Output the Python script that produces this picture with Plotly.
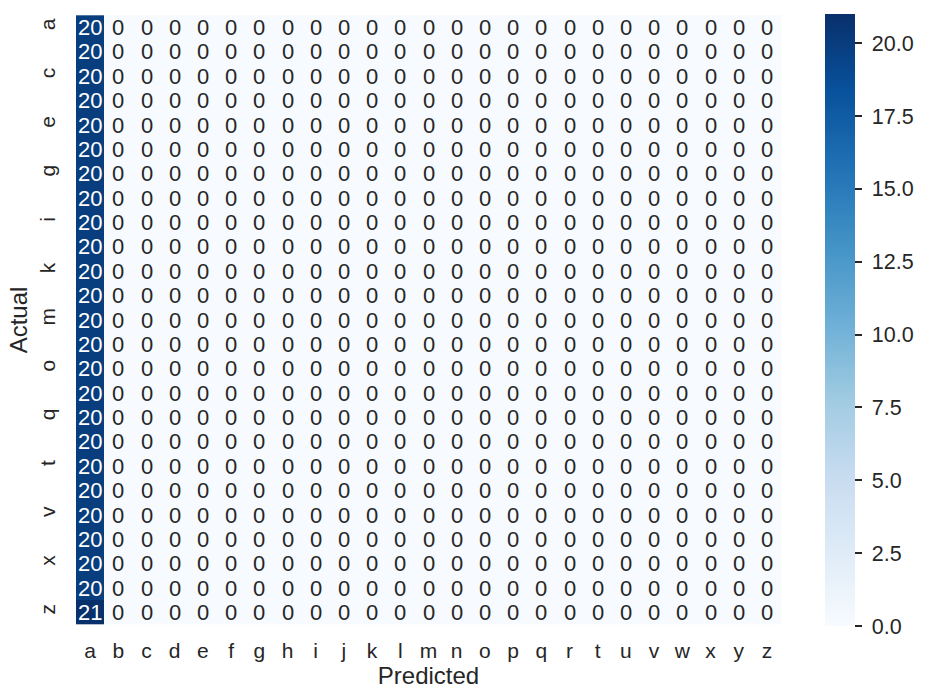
import plotly.graph_objects as go

labels = ["a","b","c","d","e","f","g","h","i","j","k","l","m",
          "n","o","p","q","r","t","u","v","w","x","y","z"]
# counts in predicted column 'a' for each actual row; all other cells are 0
col_a_counts = [20]*24 + [21]
n = len(labels)
z = [[col_a_counts[i] if j == 0 else 0 for j in range(n)] for i in range(n)]

cbar_ticks = [0, 2.5, 5, 7.5, 10, 12.5, 15, 17.5, 20]

blues = ["#f7fbff","#deebf7","#c6dbef","#9ecae1","#6baed6",
         "#4292c6","#2171b5","#08519c","#08306b"]
cs = [[i/(len(blues)-1), c] for i, c in enumerate(blues)]

FONT = "Liberation Sans, Arial, sans-serif"
zmax = max(max(r) for r in z)

fig = go.Figure(go.Heatmap(
    z=z, x=labels, y=labels, colorscale=cs, zmin=0, zmax=zmax,
    hoverinfo="skip",
    colorbar=dict(thickness=30, len=1, lenmode="fraction", y=0.5, yanchor="middle",
                  x=1.0624, xanchor="left", xpad=0, ypad=0, outlinewidth=0,
                  ticks="outside", ticklen=7, tickwidth=2, tickcolor="#262626",
                  tickvals=cbar_ticks,
                  ticktext=["\u00a0" + f"{t:.1f}" for t in cbar_ticks],
                  tickfont=dict(family=FONT, size=21.5, color="#262626")),
))

anns = []
for i, r in enumerate(labels):
    for j, c in enumerate(labels):
        v = z[i][j]
        anns.append(dict(x=c, y=r, text=str(v), showarrow=False, borderpad=0,
                         font=dict(family=FONT, size=22,
                                   color="white" if v > zmax*0.5 else "#262626")))
fig.update_layout(annotations=anns)

fig.update_xaxes(tickvals=labels, ticktext=labels, ticks="", showgrid=False, zeroline=False,
                 tickfont=dict(family=FONT, size=21, color="#262626"),
                 ticklabelstandoff=10,
                 title=dict(text="Predicted", font=dict(family=FONT, size=24, color="#262626"),
                            standoff=6))
fig.update_yaxes(autorange="reversed", tickvals=labels[::2], ticktext=labels[::2],
                 ticks="", showgrid=False, zeroline=False, tickangle=-90,
                 tickfont=dict(family=FONT, size=21, color="#262626"),
                 ticklabelstandoff=16,
                 title=dict(text="Actual", font=dict(family=FONT, size=24, color="#262626"),
                            standoff=1))

fig.update_layout(width=952, height=698, margin=dict(l=76, r=171, t=14, b=72),
                  paper_bgcolor="white", plot_bgcolor="white")
fig.write_html("out.html")
